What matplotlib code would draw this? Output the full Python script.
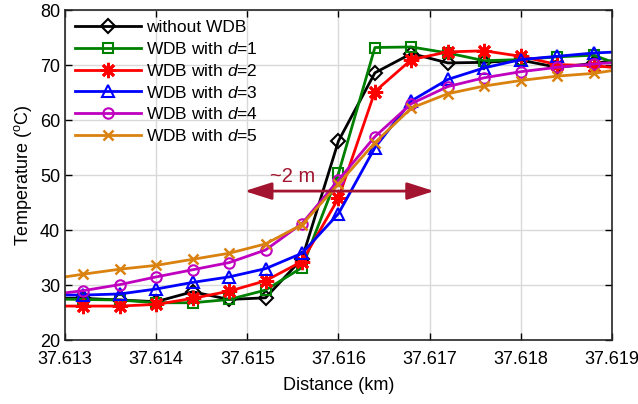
import matplotlib.pyplot as plt

plt.rcParams["font.family"] = ["Liberation Sans", "DejaVu Sans"]
plt.rcParams["mathtext.fontset"] = "custom"
plt.rcParams["mathtext.rm"] = "Liberation Sans"
plt.rcParams["mathtext.it"] = "Liberation Sans:italic"

# distance (km), first and last points are clipped by the axis limits
dist = [37.6128, 37.6132, 37.6136, 37.6140, 37.6144, 37.6148, 37.6152, 37.6156, 37.6160,
        37.6164, 37.6168, 37.6172, 37.6176, 37.6180, 37.6184, 37.6188, 37.6192]

no_wdb = [27.6, 27.6, 27.3, 27.0, 28.8, 27.4, 27.7, 34.8, 56.2, 68.6, 72.1, 70.4, 70.5, 70.9, 69.6, 70.3, 71.3]
wdb_d1 = [27.5, 27.4, 27.3, 26.8, 26.8, 27.4, 29.1, 33.2, 50.3, 73.2, 73.3, 72.2, 70.8, 71.0, 71.5, 71.8, 69.4]
wdb_d2 = [26.2, 26.2, 26.2, 26.5, 27.6, 28.9, 30.8, 34.3, 45.8, 65.2, 71.0, 72.4, 72.6, 71.6, 70.1, 69.9, 69.3]
wdb_d3 = [28.2, 28.2, 28.4, 29.3, 30.5, 31.5, 33.0, 35.8, 43.0, 55.0, 63.5, 67.4, 69.5, 71.0, 71.6, 72.2, 72.5]
wdb_d4 = [28.2, 29.0, 30.1, 31.5, 32.8, 34.1, 36.4, 41.2, 49.1, 57.0, 63.0, 66.1, 67.7, 68.8, 69.6, 70.2, 70.7]
wdb_d5 = [31.0, 32.0, 32.9, 33.6, 34.7, 35.8, 37.5, 41.0, 48.4, 55.9, 62.2, 64.8, 66.2, 67.2, 68.0, 68.5, 69.5]

xticks = [37.613, 37.614, 37.615, 37.616, 37.617, 37.618, 37.619]
yticks = [20, 30, 40, 50, 60, 70, 80]

fig = plt.figure(figsize=(6.38, 4.04), dpi=100)
ax = fig.add_axes([0.102, 0.158, 0.857, 0.817])

lw = 2.0
ms = 7.5
ax.plot(dist, no_wdb, color='k', marker='D', ms=7, mfc='none', mew=1.5, lw=lw, label='without WDB')
ax.plot(dist, wdb_d1, color='#008000', marker='s', ms=7, mfc='none', mew=1.5, lw=lw,
        label=r'WDB with $\mathit{d}$=$\mathit{1}$')
ax.plot(dist, wdb_d2, color='#FF0000', marker=(8, 2, 0), ms=11, mew=2, lw=lw,
        label=r'WDB with $\mathit{d}$=$\mathit{2}$')
ax.plot(dist, wdb_d3, color='#0000FF', marker='^', ms=9, mfc='none', mew=1.5, lw=lw,
        label=r'WDB with $\mathit{d}$=$\mathit{3}$')
ax.plot(dist, wdb_d4, color='#BF00BF', marker='o', ms=ms, mfc='none', mew=1.5, lw=lw,
        label=r'WDB with $\mathit{d}$=$\mathit{4}$')
ax.plot(dist, wdb_d5, color='#D9820F', marker='x', ms=ms, mew=1.8, lw=lw,
        label=r'WDB with $\mathit{d}$=$\mathit{5}$')

# ~2 m annotation
ax.annotate('', xy=(37.61497, 47.1), xytext=(37.61705, 47.1),
            arrowprops=dict(arrowstyle='<|-|>,head_length=1.1,head_width=0.35',
                            mutation_scale=15, color='#A2142F', lw=2, shrinkA=0, shrinkB=0))
ax.text(37.6155, 49.8, '~2 m', color='#A2142F', fontsize=14.5, ha='center', va='center')

ax.set_xlim(37.613, 37.619)
ax.set_ylim(20, 80)
ax.set_xticks(xticks)
ax.set_xticklabels([f'{v:.3f}' for v in xticks])
ax.set_yticks(yticks)
ax.tick_params(direction='in', top=True, right=True, labelsize=13, length=5, width=1)
ax.tick_params(axis='x', pad=7.5)
ax.grid(color='#d9d9d9', lw=1)
ax.set_axisbelow(True)
for s in ax.spines.values():
    s.set_linewidth(1.2)
    s.set_color('#262626')

ax.set_xlabel('Distance (km)', fontsize=13)
ax.set_ylabel(r'Temperature ($^{\rm o}$C)', fontsize=13)
ax.xaxis.set_label_coords(0.5, -0.112)

ax.legend(loc='upper left', frameon=False, fontsize=12.5, handlelength=3.8,
          borderaxespad=0.15, labelspacing=0.34, handletextpad=0.3)

plt.savefig('out.png', dpi=100)
plt.close()
